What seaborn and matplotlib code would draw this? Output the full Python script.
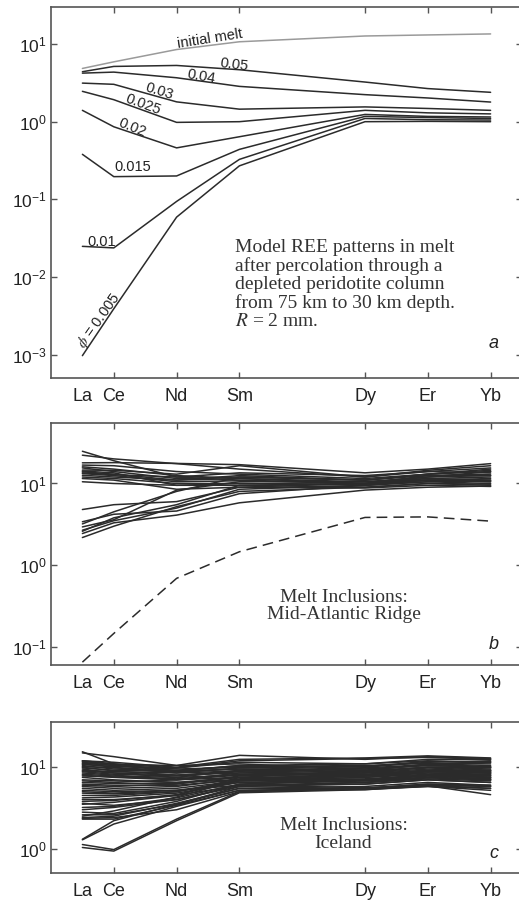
import numpy as np
import pandas as pd
import seaborn as sns
import matplotlib
matplotlib.use("Agg")
import matplotlib.pyplot as plt
from matplotlib.ticker import LogLocator, NullLocator, FixedLocator, FixedFormatter

# ---------------------------------------------------------------- data
elements = ["La", "Ce", "Nd", "Sm", "Dy", "Er", "Yb"]
atomic_number = [57, 58, 60, 62, 66, 68, 70]

# panel a: model melt compositions (chondrite-normalised)
initial_melt = [4.85, 5.9, 8.5, 10.7, 12.7, 13.1, 13.5]
porosity_labels = ["0.05", "0.04", "0.03", "0.025", "0.02", "0.015", "0.01", "0.005"]
model_melts = [
    [4.4, 5.15, 5.3, 4.67, 3.24, 2.67, 2.39],
    [4.22, 4.35, 3.68, 2.85, 2.23, 2.02, 1.79],
    [3.14, 3.03, 1.8, 1.45, 1.55, 1.48, 1.40],
    [2.46, 1.92, 0.98, 1.0, 1.40, 1.30, 1.26],
    [1.40, 0.86, 0.46, 0.64, 1.24, 1.17, 1.15],
    [0.38, 0.196, 0.2, 0.44, 1.17, 1.13, 1.10],
    [0.0248, 0.0237, 0.094, 0.327, 1.10, 1.06, 1.05],
    [0.00097, 0.0039, 0.059, 0.27, 1.0, 1.01, 1.0],
]

# panel b: Mid-Atlantic Ridge melt inclusions
mar_inclusions = [
    [24.8, 19.0, 12.0, 11.0, 10.0, 12.0, 14.0],
    [22.2, 20.0, 17.5, 15.0, 12.0, 14.5, 16.5],
    [17.9, 18.0, 17.6, 17.0, 13.5, 15.0, 17.5],
    [16.8, 16.5, 14.0, 13.0, 11.5, 13.0, 15.0],
    [15.5, 14.0, 11.5, 12.0, 11.0, 12.5, 12.5],
    [14.6, 14.5, 13.0, 16.5, 12.0, 14.0, 15.5],
    [13.9, 13.0, 11.0, 11.5, 10.5, 11.5, 11.0],
    [13.2, 12.5, 10.5, 10.8, 10.0, 11.0, 10.5],
    [12.6, 12.0, 11.0, 12.5, 11.0, 13.0, 14.0],
    [12.0, 11.5, 10.0, 10.0, 9.5, 10.5, 10.0],
    [10.5, 10.0, 9.5, 9.5, 9.0, 10.0, 9.5],
    [16.0, 15.0, 12.5, 11.5, 10.0, 11.5, 12.0],
    [13.5, 12.8, 12.0, 13.5, 12.5, 14.0, 13.5],
    [11.5, 11.0, 8.5, 9.0, 8.8, 9.5, 9.2],
    [14.2, 13.5, 9.5, 10.0, 9.8, 11.0, 11.5],
    [4.8, 5.5, 6.0, 9.0, 10.0, 11.0, 10.5],
    [3.4, 4.2, 4.6, 7.5, 9.5, 10.5, 10.8],
    [2.94, 3.6, 8.3, 10.5, 10.5, 12.0, 12.5],
    [2.68, 3.5, 5.0, 8.5, 9.5, 11.0, 11.0],
    [2.44, 3.3, 4.1, 5.8, 8.3, 9.0, 9.3],
    [2.18, 3.0, 5.2, 8.0, 9.0, 10.0, 9.8],
    [2.6, 3.8, 5.5, 9.5, 10.0, 12.5, 13.0],
    [3.2, 4.5, 8.0, 12.0, 11.0, 13.0, 14.5],
]
mar_model_melt = [0.065, 0.146, 0.69, 1.46, 3.84, 3.9, 3.46]

# panel c: Iceland melt inclusions
iceland_inclusions = [
    [15.5, 11.0, 9.0, 10.5, 11.0, 12.0, 11.5],
    [15.0, 13.5, 10.5, 14.0, 12.5, 13.5, 12.8],
    [12.0, 11.5, 10.0, 12.5, 13.0, 13.8, 13.0],
    [11.5, 10.5, 9.5, 10.0, 9.0, 11.0, 10.5],
    [11.0, 10.0, 8.5, 9.0, 8.5, 10.0, 9.5],
    [10.5, 9.5, 9.0, 10.5, 10.0, 11.5, 12.0],
    [10.0, 9.0, 8.0, 8.5, 8.0, 9.0, 8.5],
    [9.5, 8.5, 7.5, 8.0, 7.5, 8.5, 8.0],
    [9.0, 8.5, 8.0, 9.0, 9.5, 10.5, 10.0],
    [8.5, 8.0, 7.0, 7.5, 7.0, 8.0, 7.5],
    [8.0, 7.5, 7.0, 8.0, 8.5, 9.0, 9.0],
    [7.5, 7.0, 6.5, 7.0, 6.5, 7.5, 7.0],
    [11.8, 10.8, 10.5, 11.0, 9.5, 10.5, 10.0],
    [10.8, 10.2, 9.8, 11.5, 11.0, 12.5, 12.5],
    [9.8, 9.2, 8.8, 9.5, 8.8, 9.8, 9.2],
    [8.8, 8.2, 7.8, 8.8, 8.0, 9.2, 8.8],
    [7.0, 6.8, 6.5, 7.5, 7.8, 8.5, 8.2],
    [6.2, 6.0, 6.0, 7.0, 7.2, 8.0, 7.8],
    [5.8, 5.5, 5.8, 7.2, 8.0, 9.0, 8.5],
    [5.5, 5.2, 5.5, 6.8, 7.0, 7.8, 7.2],
    [5.2, 5.0, 5.2, 6.5, 6.8, 7.5, 7.0],
    [4.8, 4.7, 5.0, 6.8, 7.5, 8.2, 8.0],
    [4.5, 4.5, 5.0, 7.0, 8.0, 9.0, 9.2],
    [4.2, 4.3, 4.8, 6.5, 7.0, 8.0, 7.5],
    [4.0, 4.0, 4.5, 6.0, 6.2, 7.0, 6.5],
    [3.8, 3.9, 4.6, 6.8, 7.8, 8.8, 8.5],
    [3.5, 3.7, 4.5, 7.5, 9.0, 10.0, 10.0],
    [3.2, 3.3, 4.2, 6.2, 6.8, 7.5, 7.0],
    [3.0, 3.2, 4.0, 6.0, 6.5, 7.2, 6.8],
    [2.8, 2.7, 3.8, 6.2, 7.0, 8.0, 7.8],
    [2.6, 2.6, 3.5, 5.8, 6.2, 7.0, 6.5],
    [2.5, 2.9, 4.3, 7.0, 8.2, 9.2, 9.0],
    [2.4, 2.5, 3.6, 5.5, 5.8, 6.5, 6.0],
    [2.3, 2.3, 3.4, 5.2, 5.5, 6.2, 5.8],
    [1.3, 2.2, 3.5, 5.5, 5.5, 6.0, 5.5],
    [1.28, 2.0, 3.3, 5.2, 5.3, 5.9, 4.6],
    [1.12, 0.97, 2.3, 5.0, 5.5, 6.2, 6.0],
    [1.03, 0.93, 2.2, 4.85, 5.3, 5.8, 5.5],
    [6.8, 6.5, 7.0, 8.5, 9.0, 10.0, 9.8],
    [6.5, 6.3, 6.3, 7.5, 7.0, 7.8, 7.5],
    [12.0, 11.0, 9.8, 12.0, 12.8, 13.2, 12.5],
    [10.2, 9.8, 9.2, 10.2, 10.5, 11.2, 11.0],
    [9.2, 8.8, 8.5, 9.8, 10.2, 11.8, 11.5],
    [7.8, 7.6, 7.2, 8.2, 7.8, 8.8, 8.5],
    [5.0, 4.8, 5.2, 6.0, 5.6, 6.0, 5.8],
    [3.6, 3.4, 4.0, 5.8, 6.5, 7.4, 7.2],
    [2.35, 2.4, 3.0, 5.0, 5.4, 5.8, 5.2],
    [11.2, 10.5, 9.0, 9.5, 9.2, 10.8, 11.8],
    [8.2, 7.8, 7.5, 9.2, 9.8, 10.8, 10.2],
    [6.0, 5.8, 6.2, 7.8, 8.5, 9.5, 9.0],
]


def to_long(rows, names=None):
    """Stack a list of REE patterns into a tidy frame for seaborn."""
    recs = []
    for i, row in enumerate(rows):
        key = names[i] if names is not None else i
        for z, v in zip(atomic_number, row):
            recs.append({"pattern": key, "Z": z, "value": v})
    return pd.DataFrame(recs)


# ---------------------------------------------------------------- style
sns.set_style("ticks")
plt.rcParams["font.family"] = ["Liberation Sans", "DejaVu Sans"]
plt.rcParams["mathtext.fontset"] = "stix"
plt.rcParams["axes.unicode_minus"] = False
plt.rcParams["axes.linewidth"] = 1.2

LINE = "#2b2b2b"
FRAME = "#555555"
TEXT = "#222222"
SERIF = "#333333"

fig = plt.figure(figsize=(5.19, 9.0), dpi=100)
W, H = 519.0, 900.0
left = 51 / W
width = (522 - 51) / W
ax_a = fig.add_axes([left, (H - 378) / H, width, 371 / H])
ax_b = fig.add_axes([left, (H - 665) / H, width, 242 / H])
ax_c = fig.add_axes([left, (H - 873) / H, width, 151 / H])


def style_axes(ax, ylim):
    ax.set_yscale("log")
    ax.set_xlim(56, 71)
    ax.set_ylim(*ylim)
    ax.yaxis.set_major_locator(LogLocator(base=10, numticks=12))
    ax.yaxis.set_minor_locator(NullLocator())
    ax.xaxis.set_major_locator(FixedLocator(atomic_number))
    ax.xaxis.set_major_formatter(FixedFormatter(elements))
    ax.tick_params(axis="both", which="major", direction="in", top=True,
                   right=True, length=4, width=1.0, color=FRAME,
                   labelcolor=TEXT)
    ax.tick_params(axis="x", labelsize=13, pad=7)
    ax.tick_params(axis="y", labelsize=12.5, pad=3)
    for sp in ax.spines.values():
        sp.set_color(FRAME)
    # La carries a label but no tick mark
    t0 = ax.xaxis.get_major_ticks()[0]
    t0.tick1line.set_visible(False)
    t0.tick2line.set_visible(False)
    ax.set_xlabel("")
    ax.set_ylabel("")


# ---------------------------------------------------------------- panel a
df_model = to_long(model_melts, porosity_labels)
sns.lineplot(data=df_model, x="Z", y="value", units="pattern", estimator=None,
             sort=False, color=LINE, linewidth=1.1, ax=ax_a, legend=False)
sns.lineplot(x=atomic_number, y=initial_melt, color="#9a9a9a", linewidth=1.1,
             ax=ax_a, legend=False)
style_axes(ax_a, (5e-4, 30))

curve_labels = [
    ("initial melt", 61.05, 11.7, 9),
    ("0.05", 61.84, 5.45, -7),
    ("0.04", 60.79, 3.81, -10),
    ("0.03", 59.46, 2.47, -17),
    ("0.025", 58.93, 1.66, -20),
    ("0.02", 58.59, 0.83, -22),
    ("0.015", 58.59, 0.258, 0),
    ("0.01", 57.62, 0.0285, 0),
    ("$\\phi$ = 0.005", 57.53, 0.00273, 55),
]
for s, x, y, r in curve_labels:
    ax_a.text(x, y, s, rotation=r, rotation_mode="anchor", ha="center",
              va="center", fontsize=10.5, color=TEXT)

ax_a.text(0.391, 0.375,
          "Model REE patterns in melt\nafter percolation through a\n"
          "depleted peridotite column\nfrom 75 km to 30 km depth.\n"
          "$\\mathit{R}$ = 2 mm.",
          transform=ax_a.transAxes, ha="left", va="top", fontsize=14,
          family="Liberation Serif", linespacing=1.08, color=SERIF)
ax_a.text(0.94, 0.094, "a", transform=ax_a.transAxes, ha="center",
          va="center", fontsize=13, style="italic", color=TEXT)

# ---------------------------------------------------------------- panel b
df_mar = to_long(mar_inclusions)
sns.lineplot(data=df_mar, x="Z", y="value", units="pattern", estimator=None,
             sort=False, color=LINE, linewidth=1.1, ax=ax_b, legend=False)
sns.lineplot(x=atomic_number, y=mar_model_melt, color=LINE, linewidth=1.1,
             linestyle=(0, (7, 4)), ax=ax_b, legend=False)
style_axes(ax_b, (0.06, 55))
ax_b.text(0.621, 0.245, "Melt Inclusions:\nMid-Atlantic Ridge",
          transform=ax_b.transAxes, ha="center", va="center", fontsize=14,
          family="Liberation Serif", linespacing=1.02, color=SERIF)
ax_b.text(0.94, 0.083, "b", transform=ax_b.transAxes, ha="center",
          va="center", fontsize=13, style="italic", color=TEXT)

# ---------------------------------------------------------------- panel c
df_ice = to_long(iceland_inclusions)
sns.lineplot(data=df_ice, x="Z", y="value", units="pattern", estimator=None,
             sort=False, color=LINE, linewidth=1.1, ax=ax_c, legend=False)
style_axes(ax_c, (0.5, 36))
ax_c.text(0.621, 0.255, "Melt Inclusions:\nIceland",
          transform=ax_c.transAxes, ha="center", va="center", fontsize=14,
          family="Liberation Serif", linespacing=1.02, color=SERIF)
ax_c.text(0.94, 0.132, "c", transform=ax_c.transAxes, ha="center",
          va="center", fontsize=13, style="italic", color=TEXT)

fig.savefig("out.png", dpi=100, facecolor="white")
